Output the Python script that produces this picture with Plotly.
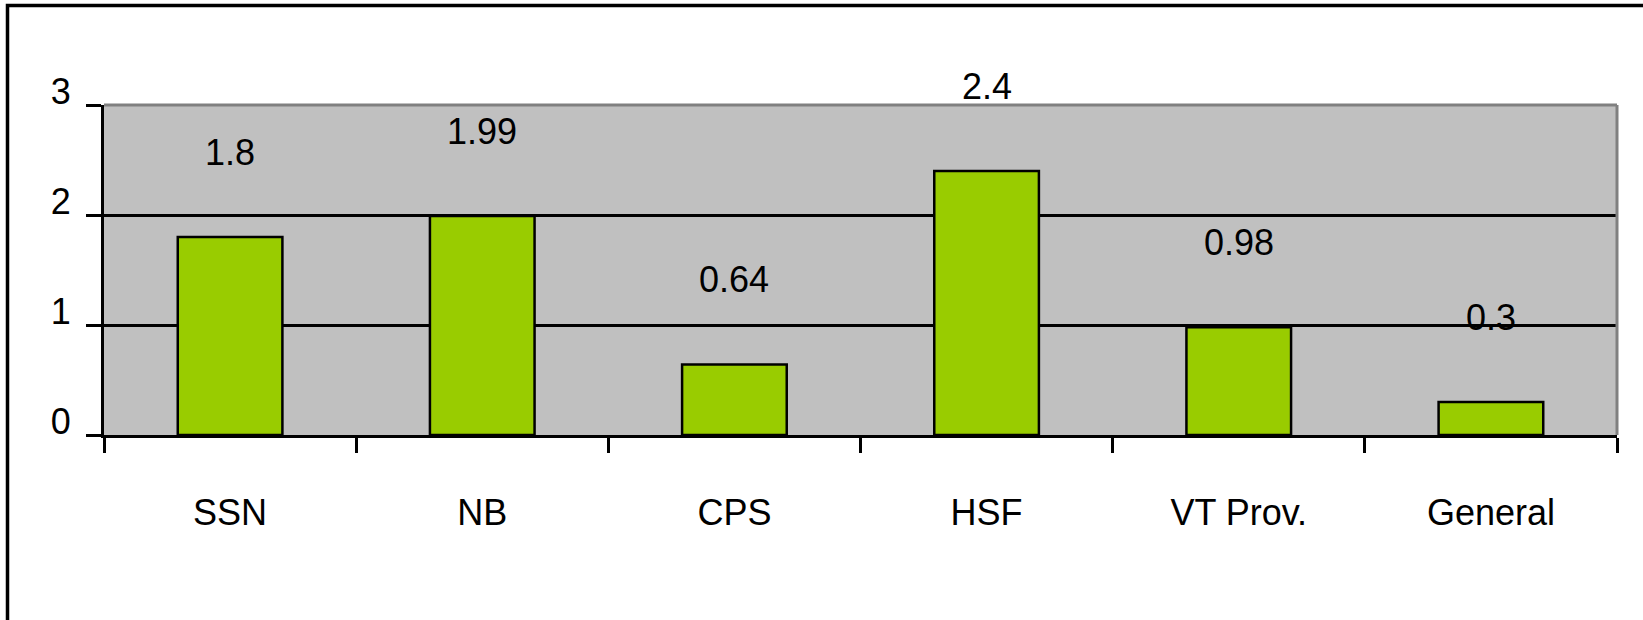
import plotly.graph_objects as go

# Chart data
categories = ["SSN", "NB", "CPS", "HSF", "VT Prov.", "General"]
values = [1.8, 1.99, 0.64, 2.4, 0.98, 0.3]
value_labels = ["1.8", "1.99", "0.64", "2.4", "0.98", "0.3"]
y_ticks = [0, 1, 2, 3]

W, H = 1643, 620
L, R, T, B = 104, 26, 105, 185
FONT = "Liberation Sans, Arial, sans-serif"
FS = 36

fig = go.Figure()
fig.add_trace(go.Bar(
    x=categories,
    y=values,
    marker=dict(color="#99CC00", line=dict(color="#000000", width=2.5)),
    showlegend=False,
    hoverinfo="skip",
))

# value labels above each bar
for cat, v, lab in zip(categories, values, value_labels):
    fig.add_annotation(
        x=cat, y=v, text=lab, showarrow=False, yshift=85,
        font=dict(family=FONT, size=FS, color="#000000"),
    )

plot_w = W - L - R
plot_h = H - T - B

def px_x(p):
    return (p - L) / plot_w

def px_y(p):
    return 1 - (p - T) / plot_h

# outer frame around the chart
fig.add_shape(
    type="rect", xref="paper", yref="paper",
    x0=px_x(7.5), x1=px_x(W + 20), y0=px_y(H + 20), y1=px_y(5.5),
    line=dict(color="#000000", width=3.5), fillcolor="rgba(0,0,0,0)",
    layer="above",
)
# grey top and right edges of the plot area
fig.add_shape(
    type="line", xref="x domain", yref="y domain",
    x0=0, x1=1, y0=1, y1=1, line=dict(color="#808080", width=3), layer="above",
)
fig.add_shape(
    type="line", xref="x domain", yref="y domain",
    x0=1, x1=1, y0=0, y1=1, line=dict(color="#808080", width=3), layer="above",
)

fig.update_layout(
    width=W, height=H,
    margin=dict(l=L, r=R, t=T, b=B),
    paper_bgcolor="#FFFFFF",
    plot_bgcolor="#C0C0C0",
    bargap=0.585,
    font=dict(family=FONT, size=FS, color="#000000"),
)
fig.update_xaxes(
    type="category",
    tickson="boundaries",
    ticks="outside", ticklen=15, tickwidth=2.5, tickcolor="#000000",
    showline=True, linecolor="#000000", linewidth=3,
    showgrid=False,
    tickfont=dict(family=FONT, size=FS, color="#000000"),
    ticklabelstandoff=44,
    fixedrange=True,
)
fig.update_yaxes(
    range=[0, 3],
    tickvals=y_ticks,
    ticktext=[str(t) for t in y_ticks],
    ticks="outside", ticklen=15, tickwidth=2.5, tickcolor="#000000",
    showline=True, linecolor="#000000", linewidth=3,
    showgrid=True, gridcolor="#000000", gridwidth=3,
    zeroline=False,
    tickfont=dict(family=FONT, size=FS, color="#000000"),
    ticklabelstandoff=8,
    ticklabelshift=-14,
    fixedrange=True,
)

fig.write_html("out.html", config={"displayModeBar": False})
